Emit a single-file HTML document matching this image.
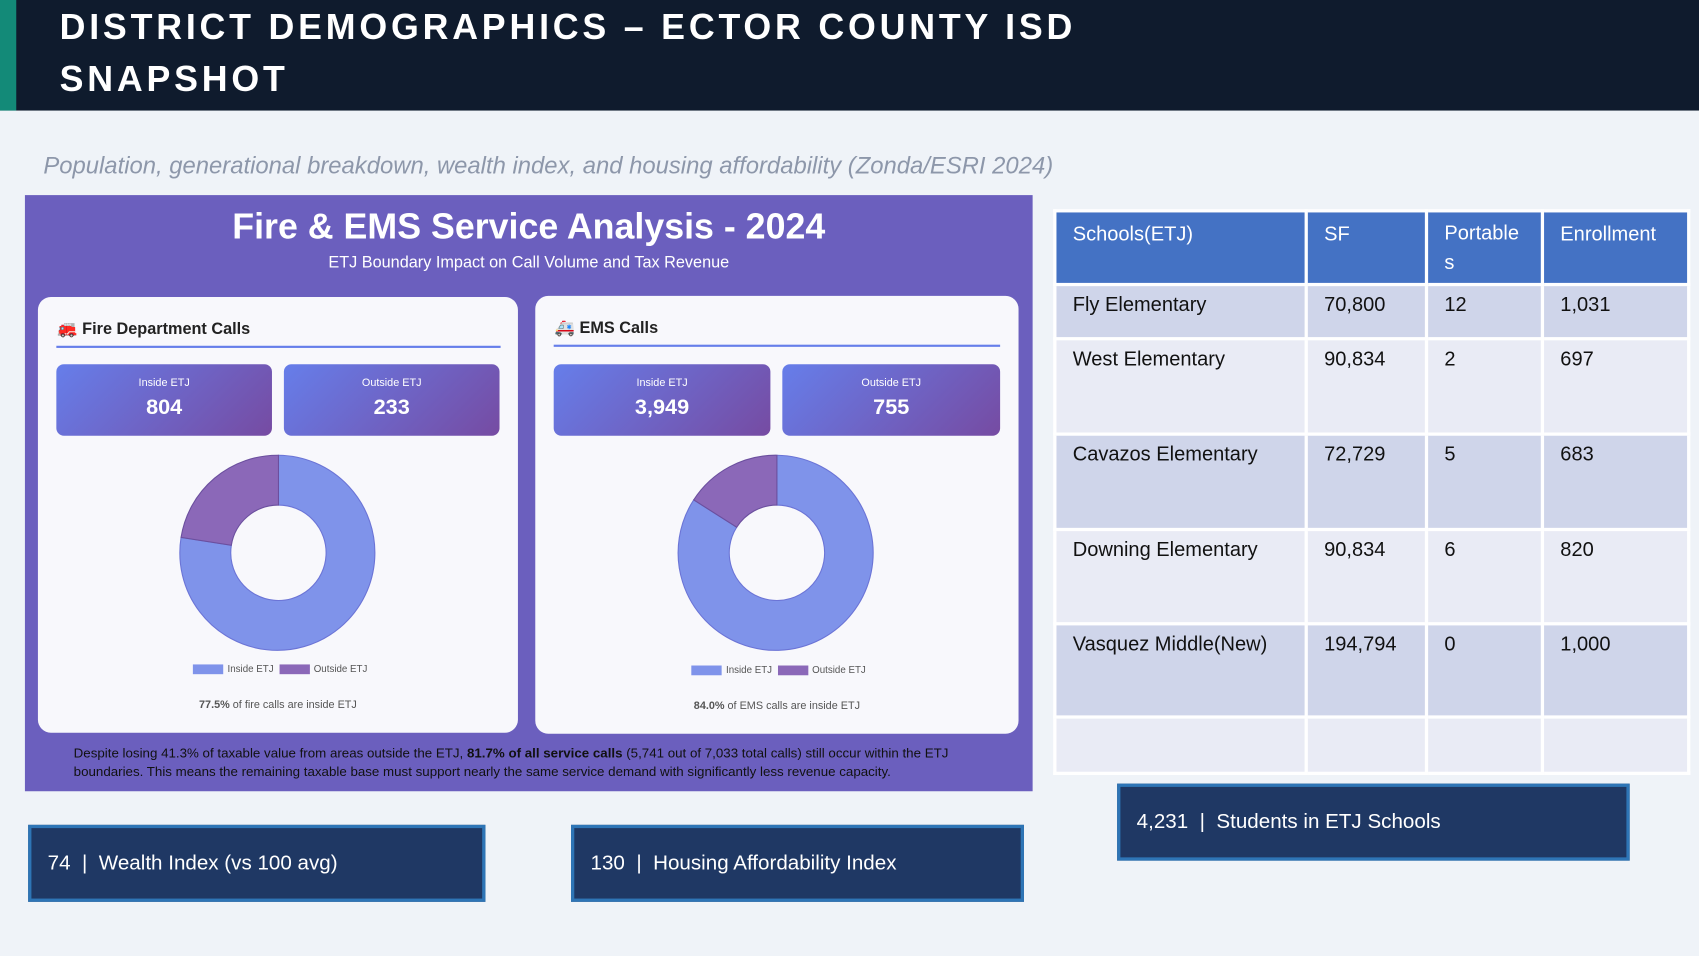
<!DOCTYPE html>
<html><head><meta charset="utf-8"><style>
*{margin:0;padding:0;box-sizing:border-box}
html,body{width:1699px;height:956px;overflow:hidden;background:#eff3f8}
#w{position:absolute;left:0;top:0;width:1568px;height:882px;transform-origin:0 0;transform:scale(1.08355,1.0839);font-family:"Liberation Sans",sans-serif}
.a{position:absolute}
.hdr{left:0;top:0;width:1568px;height:102px;background:#0f1b2d}
.hdr .st{left:0;top:0;width:15px;height:102px;background:#138a78}
.ttl{left:55px;color:#fff;font-weight:bold;font-size:33px;letter-spacing:3.5px}
.sub{left:40px;top:140px;color:#8d97aa;font-style:italic;font-size:22px}
.pan{left:23px;top:180px;width:930px;height:550px;background:#6b5fbe}
.card{background:#f8f8fc;border-radius:12px}
.box{background:linear-gradient(135deg,#667eea,#764ba2);border-radius:7px;color:#fff;text-align:center}
.box .l{font-size:10px;margin-top:12px}
.box .v{font-size:20px;font-weight:bold;margin-top:6px}
.ch{font-size:15px;font-weight:bold;color:#222}
.hl{height:2px;background:#667eea}
.leg{font-size:9px;color:#555}
.sw{display:inline-block;width:28px;height:9px;vertical-align:middle;margin-right:4px}
.cap{font-size:10px;color:#555;text-align:center}
td{font-size:18.5px;color:#111;vertical-align:top;padding:6px 15px;border:3px solid #fff}
table{border-collapse:collapse}
.kb{background:#1f3864;border:3px solid #2e75b6;color:#fff;font-size:19px;padding-left:15px;display:flex;align-items:center}
</style></head><body><div id="w">
<div class="a hdr"><div class="a st"></div>
<div class="a ttl" style="top:6px">DISTRICT DEMOGRAPHICS – ECTOR COUNTY ISD</div>
<div class="a ttl" style="top:54px">SNAPSHOT</div></div>
<div class="a sub">Population, generational breakdown, wealth index, and housing affordability (Zonda/ESRI 2024)</div>
<div class="a pan"></div>
<div class="a" style="left:23px;top:190px;width:930px;text-align:center;color:#fff;font-weight:bold;font-size:33px">Fire &amp; EMS Service Analysis - 2024</div>
<div class="a" style="left:23px;top:234px;width:930px;text-align:center;color:#fff;font-size:15px">ETJ Boundary Impact on Call Volume and Tax Revenue</div>
<div class="a card" style="left:35px;top:274px;width:443px;height:402px"></div>
<div class="a card" style="left:494px;top:273px;width:446px;height:404px"></div>
<div class="a ch" style="left:53px;top:294px">🚒 Fire Department Calls</div>
<div class="a ch" style="left:512px;top:293px">🚑 EMS Calls</div>
<div class="a hl" style="left:52px;top:319px;width:410px"></div>
<div class="a hl" style="left:511px;top:318px;width:412px"></div>
<div class="a box" style="left:52px;top:336px;width:199px;height:66px"><div class="l">Inside ETJ</div><div class="v">804</div></div>
<div class="a box" style="left:262px;top:336px;width:199px;height:66px"><div class="l">Outside ETJ</div><div class="v">233</div></div>
<div class="a box" style="left:511px;top:336px;width:200px;height:66px"><div class="l">Inside ETJ</div><div class="v">3,949</div></div>
<div class="a box" style="left:722px;top:336px;width:201px;height:66px"><div class="l">Outside ETJ</div><div class="v">755</div></div>
<svg class="a" style="left:0;top:0" width="1568" height="882">
<path d="M257 420 A90 90 0 1 1 167.1 495.8 L213.5 503.1 A44 44 0 1 0 257 466 Z" fill="#7f93ea" stroke="#6b74d6"/>
<path d="M167.1 495.8 A90 90 0 0 1 257 420 L257 466 A44 44 0 0 0 213.5 503.1 Z" fill="#8b68b8" stroke="#6b4f9e"/>
<path d="M717 420 A90 90 0 1 1 640.2 461.2 L679.9 486.4 A44 44 0 1 0 717 466 Z" fill="#7f93ea" stroke="#6b74d6"/>
<path d="M640.2 461.2 A90 90 0 0 1 717 420 L717 466 A44 44 0 0 0 679.9 486.4 Z" fill="#8b68b8" stroke="#6b4f9e"/>
</svg>
<div class="a leg" style="left:178px;top:612px"><span class="sw" style="background:#7f93ea"></span>Inside ETJ &nbsp;<span class="sw" style="background:#8b68b8"></span>Outside ETJ</div>
<div class="a leg" style="left:638px;top:613px"><span class="sw" style="background:#7f93ea"></span>Inside ETJ &nbsp;<span class="sw" style="background:#8b68b8"></span>Outside ETJ</div>
<div class="a cap" style="left:35px;top:645px;width:443px"><b>77.5%</b> of fire calls are inside ETJ</div>
<div class="a cap" style="left:494px;top:646px;width:446px"><b>84.0%</b> of EMS calls are inside ETJ</div>
<div class="a" style="left:68px;top:687px;width:845px;font-size:12.3px;color:#111;line-height:17px">Despite losing 41.3% of taxable value from areas outside the ETJ, <b>81.7% of all service calls</b> (5,741 out of 7,033 total calls) still occur within the ETJ boundaries. This means the remaining taxable base must support nearly the same service demand with significantly less revenue capacity.</div>
<table class="a" style="left:972px;top:193px;width:588px">
<tr style="background:#4472c4;height:66px"><td style="width:232px;color:#fff;padding-top:9px">Schools(ETJ)</td><td style="width:111px;color:#fff;padding-top:9px">SF</td><td style="width:107px;color:#fff;line-height:27px;padding-top:5px">Portable s</td><td style="color:#fff;padding-top:9px">Enrollment</td></tr>
<tr style="background:#cfd5ea;height:50px"><td>Fly Elementary</td><td>70,800</td><td>12</td><td>1,031</td></tr>
<tr style="background:#e9ebf5;height:88px"><td>West Elementary</td><td>90,834</td><td>2</td><td>697</td></tr>
<tr style="background:#cfd5ea;height:88px"><td>Cavazos Elementary</td><td>72,729</td><td>5</td><td>683</td></tr>
<tr style="background:#e9ebf5;height:87px"><td>Downing Elementary</td><td>90,834</td><td>6</td><td>820</td></tr>
<tr style="background:#cfd5ea;height:86px"><td>Vasquez Middle(New)</td><td>194,794</td><td>0</td><td>1,000</td></tr>
<tr style="background:#e9ebf5;height:52px"><td></td><td></td><td></td><td></td></tr>
</table>
<div class="a kb" style="left:1031px;top:723px;width:473px;height:71px">4,231 &nbsp;| &nbsp;Students in ETJ Schools</div>
<div class="a kb" style="left:26px;top:761px;width:422px;height:71px">74 &nbsp;| &nbsp;Wealth Index (vs 100 avg)</div>
<div class="a kb" style="left:527px;top:761px;width:418px;height:71px">130 &nbsp;| &nbsp;Housing Affordability Index</div>
</div></body></html>
